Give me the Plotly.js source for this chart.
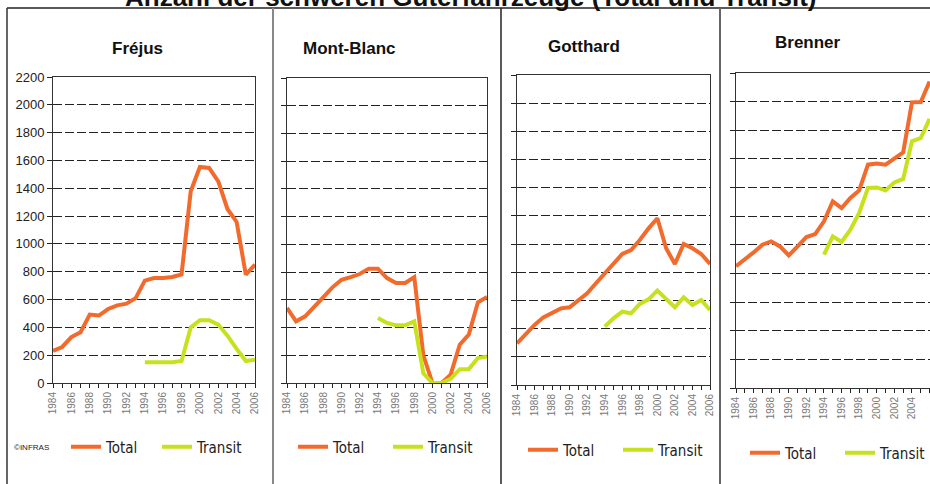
<!DOCTYPE html>
<html>
<head>
<meta charset="utf-8">
<script src="https://cdn.plot.ly/plotly-3.0.1.min.js"></script>
<style>html,body{margin:0;padding:0;background:#fff;}#chart{width:930px;height:484px;}</style>
</head>
<body>
<div id="chart"></div>
<script>
// ---- data ----
const yearsTotal = [1984,1985,1986,1987,1988,1989,1990,1991,1992,1993,1994,1995,1996,1997,1998,1999,2000,2001,2002,2003,2004,2005,2006];
const yearsTransit = [1994,1995,1996,1997,1998,1999,2000,2001,2002,2003,2004,2005,2006];

const panelNames = ["Fréjus", "Mont-Blanc", "Gotthard", "Brenner"];
const seriesNames = ["Total", "Transit"];
const yTicks = [0,200,400,600,800,1000,1200,1400,1600,1800,2000,2200];

const frejusTotal   = [230,259,330,365,492,485,532,558,570,610,736,755,755,762,780,1378,1553,1546,1450,1251,1158,779,851];
const frejusTransit = [150,150,150,150,158,400,452,452,420,340,245,158,168];

const montblancTotal   = [541,445,481,546,620,690,745,764,786,825,825,757,721,721,764,200,0,0,60,276,349,582,620];
const montblancTransit = [469,433,416,416,445,70,0,0,30,100,100,180,192];

const gotthardTotal   = [296,362,426,480,516,544,551,603,651,722,793,859,930,958,1029,1112,1183,970,859,1001,970,930,859];
const gotthardTransit = [414,473,520,509,575,608,670,613,551,622,568,603,532];

const brennerTotal   = [850,896,947,1001,1024,989,926,989,1054,1075,1164,1304,1257,1327,1380,1560,1567,1560,1606,1646,1995,1997,2140];
const brennerTransit = [931,1059,1020,1106,1222,1397,1401,1380,1436,1460,1723,1746,1880];

const totals = [frejusTotal, montblancTotal, gotthardTotal, brennerTotal];
const transits = [frejusTransit, montblancTransit, gotthardTransit, brennerTransit];

// ---- styling / layout ----
const W = 930, H = 484;
const px = v => v / W;
const py = v => 1 - v / H;

const ORANGE = '#F26A2C';
const GREEN = '#C8E11E';

// plot boxes in pixels: [left, right, top, bottom]
const boxes = [
  [53, 255, 77, 383],
  [287, 487, 78, 383],
  [517, 710, 75, 385],
  [736, 930, 73, 388]
];
const titlePos = [[137, 48], [349, 48], [584, 46], [808, 42]];
const legendPos = [[66, 447], [293, 447], [523, 450], [745, 453]];
const legendEntryW = [46, 50, 50, 50];

const traces = [];
const layout = {
  width: W, height: H,
  margin: {l: 0, r: 0, t: 0, b: 0, autoexpand: false},
  paper_bgcolor: '#fff', plot_bgcolor: '#fff',
  showlegend: true,
  font: {family: 'Liberation Sans, Arial, sans-serif', color: '#222'},
  annotations: [],
  shapes: []
};

const narrow = 'Liberation Sans Narrow, Arial Narrow, DejaVu Sans Condensed, Liberation Sans, sans-serif';

for (let i = 0; i < 4; i++) {
  const n = i === 0 ? '' : String(i + 1);
  const legName = 'legend' + n;
  traces.push({
    x: yearsTotal, y: totals[i], type: 'scatter', mode: 'lines',
    name: seriesNames[0], xaxis: 'x' + n, yaxis: 'y' + n, legend: legName,
    line: {color: ORANGE, width: 4}
  });
  traces.push({
    x: yearsTransit, y: transits[i], type: 'scatter', mode: 'lines',
    name: seriesNames[1], xaxis: 'x' + n, yaxis: 'y' + n, legend: legName,
    line: {color: GREEN, width: 4}
  });
  const b = boxes[i];
  const xEnd = i === 3 ? 2006.05 : 2006;
  layout['xaxis' + n] = {
    domain: [px(b[0]), Math.min(1, px(b[1]))],
    anchor: 'y' + n,
    range: [1984, xEnd],
    tickmode: 'linear', tick0: 1984, dtick: 2,
    ticks: 'outside', ticklen: 4, tickcolor: '#222', tickwidth: 1,
    minor: {dtick: 1, tick0: 1984, ticks: 'outside', ticklen: 4, tickcolor: '#222', showgrid: false},
    tickangle: -90,
    tickfont: {size: 10, color: '#777', family: 'Liberation Sans, Arial, sans-serif'},
    showgrid: false, zeroline: false,
    showline: true, linecolor: '#333', linewidth: 1, mirror: true,
    fixedrange: true, automargin: false
  };
  layout['yaxis' + n] = {
    domain: [py(b[3]), py(b[2])],
    anchor: 'x' + n,
    range: [0, 2200],
    tickmode: 'array', tickvals: yTicks, ticktext: yTicks.map(String),
    showticklabels: i === 0,
    ticks: 'outside', ticklen: 5, tickcolor: '#222',
    tickfont: {size: 13, color: '#222'},
    showgrid: true, gridcolor: '#222', gridwidth: 1, griddash: '9px,3px',
    zeroline: false,
    showline: true, linecolor: '#333', linewidth: 1, mirror: true,
    fixedrange: true, automargin: false
  };
  layout[legName] = {
    orientation: 'h',
    x: px(legendPos[i][0]), y: py(legendPos[i][1]),
    xanchor: 'left', yanchor: 'middle',
    xref: 'paper', yref: 'paper',
    font: {family: narrow, size: 15, color: '#222'},
    bgcolor: 'rgba(0,0,0,0)', borderwidth: 0,
    entrywidth: legendEntryW[i], entrywidthmode: 'pixels',
    itemclick: false, itemdoubleclick: false
  };
  layout.annotations.push({
    text: '<b>' + panelNames[i] + '</b>',
    x: px(titlePos[i][0]), y: py(titlePos[i][1]),
    xref: 'paper', yref: 'paper', xanchor: 'center', yanchor: 'middle',
    showarrow: false, font: {size: 17, color: '#111'}
  });
}

// main title (partly cut off at top, as in the reference)
layout.annotations.push({
  text: '<b>Anzahl der schweren Güterfahrzeuge (Total und Transit)</b>',
  x: px(471), y: py(-3), xref: 'paper', yref: 'paper',
  xanchor: 'center', yanchor: 'middle', showarrow: false,
  font: {size: 26, color: '#111'}
});
layout.annotations.push({
  text: '©INFRAS',
  x: px(12), y: py(447), xref: 'paper', yref: 'paper',
  xanchor: 'left', yanchor: 'middle', showarrow: false,
  font: {size: 8, color: '#222'}
});

// panel frame lines
function vline(x, color, w) {
  layout.shapes.push({type: 'line', xref: 'paper', yref: 'paper', x0: px(x), x1: px(x), y0: 0, y1: py(8), line: {color: color, width: w}});
}
layout.shapes.push({type: 'line', xref: 'paper', yref: 'paper', x0: px(7), x1: 1, y0: py(8), y1: py(8), line: {color: '#222', width: 1.5}});
vline(7, '#333', 1.5);
vline(273, '#888', 2);
vline(501, '#222', 1.5);
vline(720, '#666', 2);

Plotly.newPlot('chart', traces, layout, {staticPlot: true, displayModeBar: false});
</script>
</body>
</html>
